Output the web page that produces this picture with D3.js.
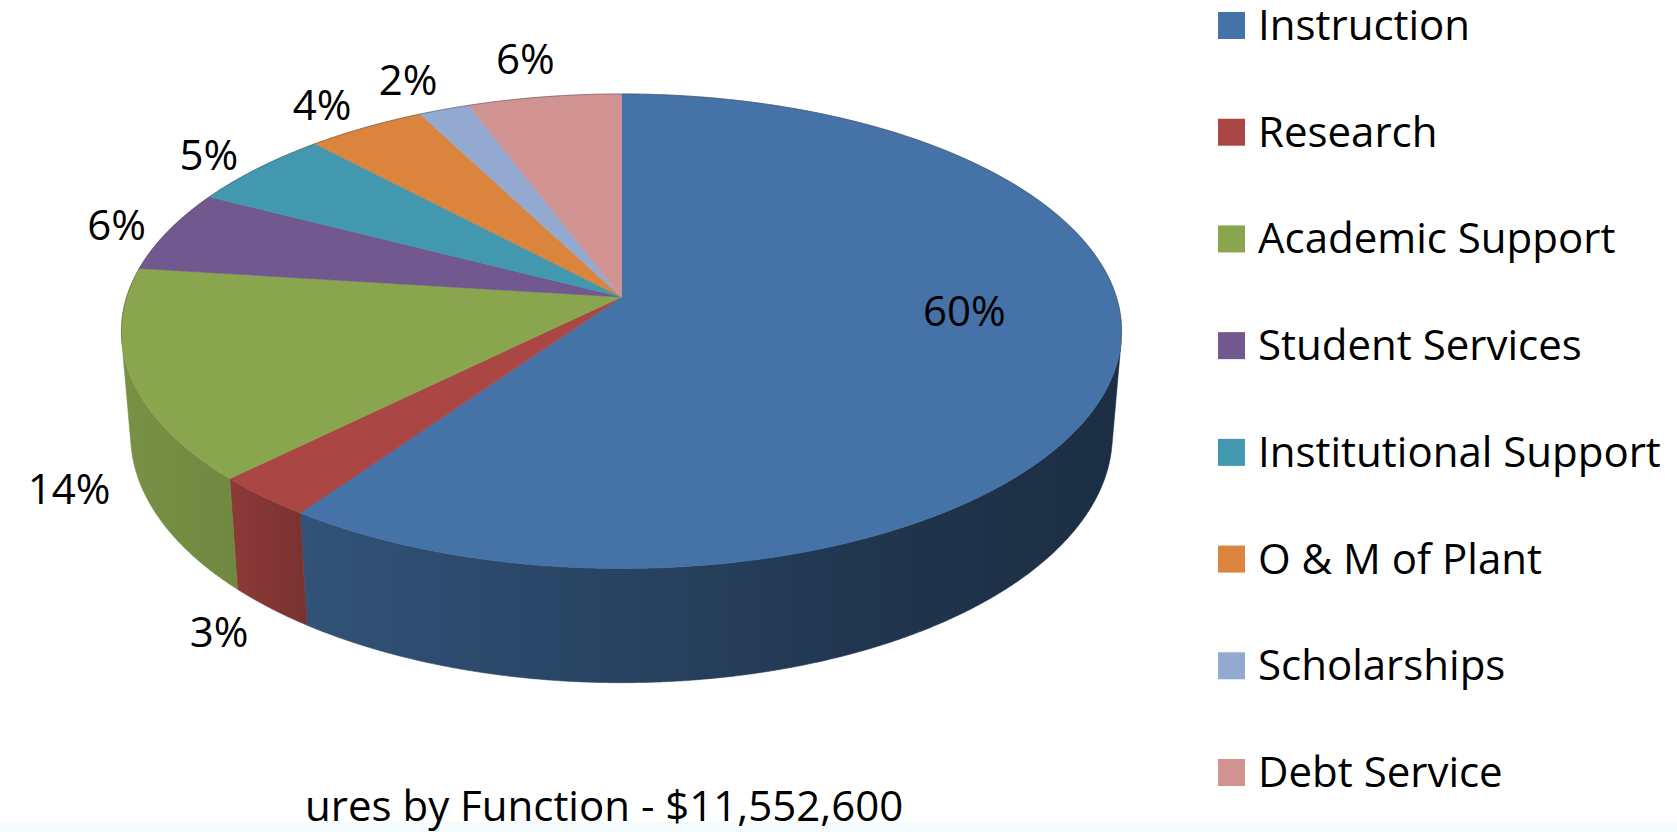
<!DOCTYPE html>
<html>
<head>
<meta charset="utf-8">
<script src="https://cdn.jsdelivr.net/npm/d3@7"></script>
<style>
  html, body { margin: 0; padding: 0; background: #ffffff; }
  svg { display: block; }
  text { font-family: "Open Sans", Lato, sans-serif; fill: #000; }
</style>
</head>
<body>
<svg id="chart" width="1677" height="832"></svg>
<script>
// ---- data ----
const categories = [
  "Instruction", "Research", "Academic Support", "Student Services",
  "Institutional Support", "O & M of Plant", "Scholarships", "Debt Service"
];
const shares = [59.7, 2.9, 14.4, 5.6, 5.4, 4.4, 1.9, 5.7];   // percent of total
const colors = ["#4572A7", "#AA4643", "#89A54E", "#71588F", "#4198AF", "#DB843D", "#93A9CF", "#D19392"];
const titleText = "ures by Function - $11,552,600";

// ---- layout ----
const W = 1677, H = 832;
const FS = 42;                       // font size used for every text
const capH = 0.714 * FS;
const svg = d3.select("#chart");

// Perspective camera looking down on a unit-radius disc of thickness view.thick
const view = { cx: 621.5, cy: 297, f: 3030, dist: 6.123, tilt: 28 * Math.PI / 180, thick: 0.24 };
const ct = Math.cos(view.tilt), st = Math.sin(view.tilt);

// x: right, y: away from viewer, z: up  ->  screen [px, py]
function project(x, y, z) {
  const py = y + view.dist * ct, pz = z - view.dist * st;
  const depth = py * ct - pz * st;
  const up = py * st + pz * ct;
  return [view.cx + view.f * x / depth, view.cy - view.f * up / depth];
}
// d3.pie angles: 0 at 12 o'clock, clockwise
const rimPoint = (r, a, z) => project(r * Math.sin(a), r * Math.cos(a), z);
function arcPoints(a0, a1, r, z) {
  const n = Math.max(2, Math.ceil(Math.abs(a1 - a0) / (0.25 * Math.PI / 180)));
  return d3.range(n + 1).map(i => rimPoint(r, a0 + (a1 - a0) * i / n, z));
}
const line = d3.line();

const pie = d3.pie().sort(null).value(d => d).startAngle(0).endAngle(2 * Math.PI);
const arcs = pie(shares);

// Side wall faces the camera where cos(a) < -1/(dist*cos(tilt))
const visLimit = Math.acos(-1 / (view.dist * ct));
const visLo = visLimit, visHi = 2 * Math.PI - visLimit;

// horizontal extent of the disc, for wall shading
const rimAll = arcPoints(0, 2 * Math.PI, 1, 0);
const xMin = d3.min(rimAll, p => p[0]), xMax = d3.max(rimAll, p => p[0]);

// wall shading: brightness multiplier across the disc width
const shadeStops = [[0, 0.88], [0.12, 0.82], [0.18, 0.72], [0.4, 0.63], [0.6, 0.54], [0.8, 0.45], [1, 0.40]];
const defs = svg.append("defs");
colors.forEach((c, i) => {
  const g = defs.append("linearGradient")
    .attr("id", "wall" + i)
    .attr("gradientUnits", "userSpaceOnUse")
    .attr("x1", xMin).attr("x2", xMax).attr("y1", 0).attr("y2", 0);
  const base = d3.rgb(c);
  shadeStops.forEach(([t, k]) => {
    g.append("stop").attr("offset", t)
      .attr("stop-color", d3.rgb(base.r * k, base.g * k, base.b * k).formatHex());
  });
});

// faint tint along the bottom edge
svg.append("rect").attr("x", 0).attr("y", 822).attr("width", W).attr("height", H - 822)
  .attr("fill", "#f3fbfc");

// ---- walls ----
const gWalls = svg.append("g");
arcs.forEach((d, i) => {
  const lo = Math.max(d.startAngle, visLo), hi = Math.min(d.endAngle, visHi);
  if (hi <= lo) return;
  const top = arcPoints(lo, hi, 1, 0);
  const bottom = arcPoints(hi, lo, 1, -view.thick);
  gWalls.append("path")
    .attr("d", line(top.concat(bottom)) + "Z")
    .attr("fill", `url(#wall${i})`)
    .attr("stroke", `url(#wall${i})`)
    .attr("stroke-width", 0.6);
});

// ---- top faces ----
const apex = project(0, 0, 0);
const gTop = svg.append("g");
arcs.forEach((d, i) => {
  const pts = [apex].concat(arcPoints(d.startAngle, d.endAngle, 1, 0));
  gTop.append("path")
    .attr("d", line(pts) + "Z")
    .attr("fill", colors[i])
    .attr("stroke", colors[i])
    .attr("stroke-width", 0.6)
    .attr("stroke-linejoin", "round");
});
// thin edge along the far rim
gTop.append("path")
  .attr("d", line(arcPoints(visHi, visLo + 2 * Math.PI, 1, 0)))
  .attr("fill", "none")
  .attr("stroke", "rgba(60,60,60,0.45)")
  .attr("stroke-width", 1);

// ---- data labels ----
const total = d3.sum(shares);
const pct = v => Math.round(v / total * 100) + "%";
const gLab = svg.append("g").attr("font-size", FS);
arcs.forEach((d, i) => {
  const mid = (d.startAngle + d.endAngle) / 2;
  const txt = gLab.append("text").text(pct(d.value)).attr("text-anchor", "middle");
  let cx, cy;
  if (d.value / total > 0.3) {
    // large slice: label sits on the face, slightly lifted
    [cx, cy] = rimPoint(0.7, mid, 0.08);
  } else {
    const front = Math.cos(mid) < -1 / (view.dist * ct);
    const z = front ? -view.thick : 0;
    const a = rimPoint(1, mid, z);
    const o = project(0, 0, z);
    let ux = a[0] - o[0], uy = a[1] - o[1];
    const len = Math.hypot(ux, uy); ux /= len; uy /= len;
    const hw = txt.node().getComputedTextLength() / 2, hh = capH / 2 + 2;
    const gap = front ? 30 : 23;
    cx = a[0] + ux * (gap + hw);
    cy = a[1] + uy * (gap + hh);
  }
  txt.attr("x", cx).attr("y", cy + capH / 2);
});

// ---- legend ----
const legendY = d3.scalePoint().domain(categories).range([12, 759]);
const gLeg = svg.append("g").attr("font-size", FS);
categories.forEach((c, i) => {
  const y = legendY(c);
  gLeg.append("rect").attr("x", 1218).attr("y", y).attr("width", 27).attr("height", 27)
    .attr("fill", colors[i]);
  gLeg.append("text").attr("x", 1258).attr("y", y + 28).text(c);
});

// ---- title ----
svg.append("text").attr("x", 305).attr("y", 821).attr("font-size", FS).text(titleText);
</script>
</body>
</html>
